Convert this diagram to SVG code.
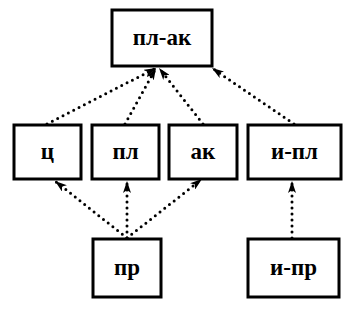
<svg xmlns="http://www.w3.org/2000/svg" width="355" height="310" viewBox="0 0 355 310">
<style>
.box{fill:#fff;stroke:#000;stroke-width:3}
.lbl{font-size:23px;font-weight:bold;text-anchor:middle;fill:#000}
.edge{fill:none;stroke:#000;stroke-width:3;stroke-dasharray:0 6;stroke-linecap:round;marker-end:url(#ah)}
</style>
<defs>
<marker id="ah" viewBox="0 0 12 8" refX="12" refY="4" markerWidth="12" markerHeight="8" markerUnits="userSpaceOnUse" orient="auto">
<path d="M0,0 L12,4 L0,8 L3,4 Z" fill="#000"/>
</marker>
</defs>
<g id="connectors">
<path class="edge" d="M47,124 L156,68"/>
<path class="edge" d="M125,124 L156,68"/>
<path class="edge" d="M203,124 L159,68"/>
<path class="edge" d="M294,124 L212,68"/>
<path class="edge" d="M127,238 L55,181"/>
<path class="edge" d="M127,238 L127,181"/>
<path class="edge" d="M127,238 L202,179"/>
<path class="edge" d="M292,238 L292,181"/>
</g>
<g font-family="Liberation Serif">
<g id="n-plak"><rect class="box" x="112" y="10" width="100" height="56"/><text class="lbl" x="162" y="45">пл-ак</text></g>
<g id="n-c"><rect class="box" x="14" y="125" width="67" height="54"/><text class="lbl" x="47.5" y="159">ц</text></g>
<g id="n-pl"><rect class="box" x="92" y="125" width="67" height="54"/><text class="lbl" x="125.5" y="159">пл</text></g>
<g id="n-ak"><rect class="box" x="169" y="125" width="68" height="54"/><text class="lbl" x="203" y="159">ак</text></g>
<g id="n-ipl"><rect class="box" x="248" y="125" width="93" height="54"/><text class="lbl" x="294.5" y="159">и-пл</text></g>
<g id="n-pr"><rect class="box" x="93" y="239" width="68" height="58"/><text class="lbl" x="127" y="275">пр</text></g>
<g id="n-ipr"><rect class="box" x="248" y="239" width="91" height="58"/><text class="lbl" x="293.5" y="275">и-пр</text></g>
</g>
</svg>
